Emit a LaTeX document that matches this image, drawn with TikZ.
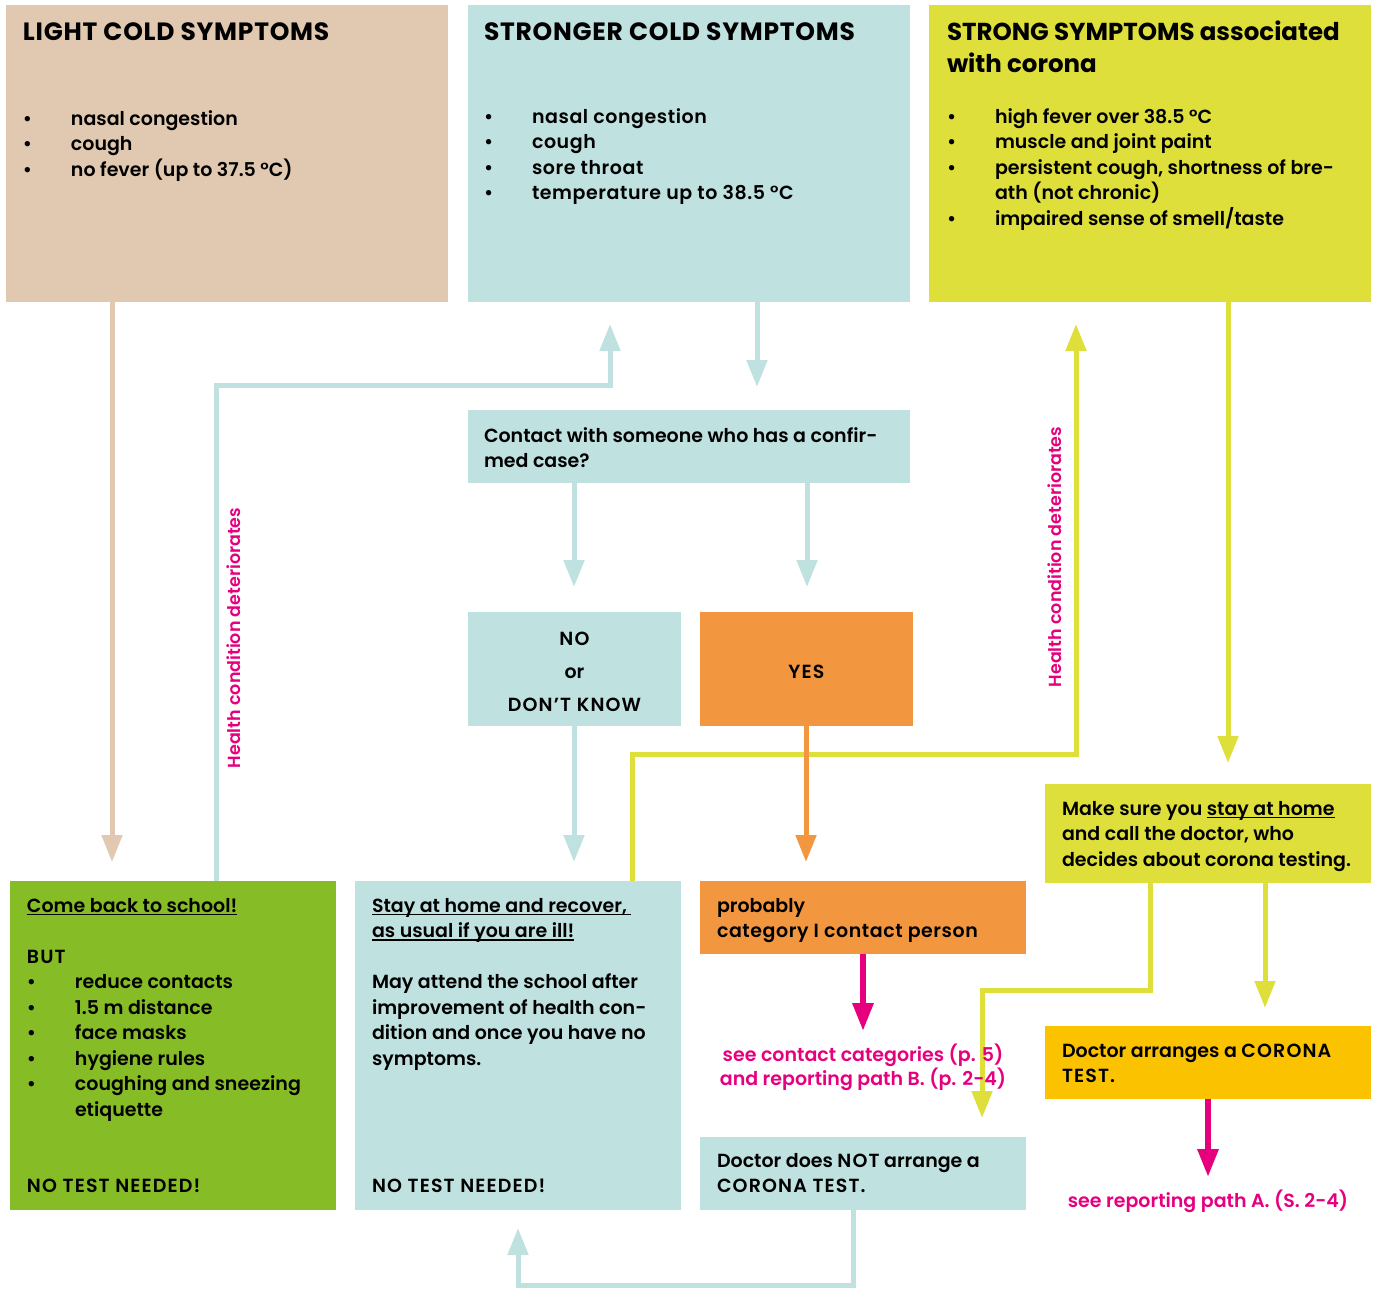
\documentclass[tikz,border=0pt]{standalone}
\usepackage{fontspec}
\setmainfont{Poppins}[UprightFont=* SemiBold, BoldFont=* Bold]
\usetikzlibrary{arrows.meta}
\definecolor{cbeige}{HTML}{E0C9B0}
\definecolor{cteal}{HTML}{BFE1E0}
\definecolor{cyell}{HTML}{DEDF3A}
\definecolor{corange}{HTML}{F39640}
\definecolor{cgreen}{HTML}{86BC25}
\definecolor{cgold}{HTML}{FBC200}
\definecolor{cpink}{HTML}{E6007E}
\newcommand\bul{\makebox[48pt][l]{•}}
\newcommand\ind{\hspace*{48pt}}
\newcommand\ulx[1]{\leavevmode\setbox0\hbox{#1}\rlap{\rule[-3pt]{\wd0}{1.2pt}}\box0}
\newcommand\cps[1]{{\addfontfeatures{LetterSpace=6}#1}}
\tikzset{
 box/.style={rectangle, inner sep=0pt, outer sep=0pt, anchor=north west, draw=none},
 body/.style={inner sep=0pt, outer sep=0pt, anchor=base west, font=\fontsize{19}{25.5}\selectfont},
 head/.style={inner sep=0pt, outer sep=0pt, anchor=base west, font=\bfseries\fontsize{25}{32}\selectfont\addfontfeatures{LetterSpace=3}},
 flow/.style={line width=5pt, -{Triangle[width=20pt,length=27pt]}},
 pinkflow/.style={line width=6pt, draw=cpink, -{Triangle[width=20pt,length=28pt]}},
 note/.style={inner sep=0pt, outer sep=0pt, anchor=base, text=cpink, font=\fontsize{19}{24}\selectfont},
 side/.style={inner sep=0pt, rotate=90, text=cpink, font=\fontsize{17.5}{17.5}\selectfont},
}
\begin{document}
\begin{tikzpicture}[x=1pt,y=-1pt]
\useasboundingbox (0,0) rectangle (1378,1288);
% boxes
\node[box, fill=cbeige, minimum width=442pt, minimum height=297pt] (light) at (6,5) {};
\node[box, fill=cteal, minimum width=442pt, minimum height=297pt] (stronger) at (468,5) {};
\node[box, fill=cyell, minimum width=442pt, minimum height=297pt] (strong) at (929,5) {};
\node[box, fill=cteal, minimum width=442pt, minimum height=73pt] (contact) at (468,410) {};
\node[box, fill=cteal, minimum width=213pt, minimum height=114pt] (no) at (468,612) {};
\node[box, fill=corange, minimum width=213pt, minimum height=114pt] (yes) at (700,612) {};
\node[box, fill=cgreen, minimum width=326pt, minimum height=329pt] (comeback) at (10,881) {};
\node[box, fill=cteal, minimum width=326pt, minimum height=329pt] (stay) at (355,881) {};
\node[box, fill=corange, minimum width=326pt, minimum height=73pt] (probably) at (700,881) {};
\node[box, fill=cteal, minimum width=326pt, minimum height=73pt] (notest) at (700,1137) {};
\node[box, fill=cyell, minimum width=326pt, minimum height=99pt] (makesure) at (1045,784) {};
\node[box, fill=cgold, minimum width=326pt, minimum height=73pt] (arranges) at (1045,1026) {};
\coordinate (tipB) at (863,1031);
\coordinate (tipA) at (1208,1177);

% connectors
\draw[flow, draw=cteal] ([xshift=289pt]stronger.south west) -- ([xshift=289pt,yshift=23pt]contact.north west);
\draw[flow, draw=cteal] ([xshift=106pt]contact.south west) -- ([xshift=106pt,yshift=25pt]no.north west);
\draw[flow, draw=cteal] ([xshift=339pt]contact.south west) -- ([xshift=107pt,yshift=25pt]yes.north west);
\draw[flow, draw=cteal] ([xshift=106pt]no.south west) -- ([xshift=219pt,yshift=19pt]stay.north west);
\draw[flow, draw=cteal] ([xshift=206pt]comeback.north west) |- ([xshift=142pt,yshift=-83pt]stronger.south west) -- ([xshift=142pt,yshift=-22pt]stronger.south west);
\draw[flow, draw=cteal] ([xshift=153pt]notest.south west) |- ([xshift=163pt,yshift=-75pt]stay.south west) -- ([xshift=163pt,yshift=-18pt]stay.south west);
\draw[flow, draw=cbeige] ([xshift=106pt]light.south west) -- ([xshift=102pt,yshift=19pt]comeback.north west);
\draw[flow, draw=cyell] ([xshift=277pt]stay.north west) |- ([xshift=147pt,yshift=-452pt]strong.south west) -- ([xshift=147pt,yshift=-22pt]strong.south west);
\draw[flow, draw=cyell] ([xshift=299pt]strong.south west) -- ([xshift=183pt,yshift=21pt]makesure.north west);
\draw[flow, draw=cyell] ([xshift=105pt]makesure.south west) |- ([xshift=282pt,yshift=147pt]notest.north west) -- ([xshift=282pt,yshift=19pt]notest.north west);
\draw[flow, draw=cyell] ([xshift=220pt]makesure.south west) -- ([xshift=220pt,yshift=18pt]arranges.north west);
\draw[flow, draw=corange] ([xshift=106pt]yes.south west) -- ([xshift=106pt,yshift=19pt]probably.north west);
\draw[pinkflow] ([xshift=163pt]probably.south west) -- (tipB);
\draw[pinkflow] ([xshift=163pt]arranges.south west) -- (tipA);

% texts
\node[head] (lightH) at (23,40) {LIGHT COLD SYMPTOMS};
\node[body] (lightB) at (23,125) {\parbox[t]{400pt}{\raggedright
 \bul nasal congestion\\ \bul cough\\ \bul no fever (up to 37.5 °C)}};
\node[head] (strongerH) at (484,40) {STRONGER COLD SYMPTOMS};
\node[body, font=\fontsize{19}{25.5}\selectfont\addfontfeatures{LetterSpace=3}] (strongerB) at (484,123) {\parbox[t]{400pt}{\raggedright
 \bul nasal congestion\\ \bul cough\\ \bul sore throat\\ \bul temperature up to 38.5 °C}};
\node[head, font=\bfseries\fontsize{24.5}{32}\selectfont] (strongH) at (947,40) {\parbox[t]{420pt}{\raggedright STRONG SYMPTOMS associated\\ with corona}};
\node[body] (strongB) at (947,123) {\parbox[t]{420pt}{\raggedright
 \bul high fever over 38.5 °C\\ \bul muscle and joint paint\\ \bul persistent cough, shortness of bre-\\ \ind ath (not chronic)\\ \bul impaired sense of smell/taste}};
\node[body, font=\fontsize{19}{25}\selectfont] (contactT) at (484,442) {\parbox[t]{420pt}{\raggedright
 Contact with someone who has a confir-\\ med case?}};
\node[body, anchor=base, font=\fontsize{19}{33}\selectfont] (noT) at (574.5,645) {\parbox[t]{200pt}{\centering \cps{NO}\\ or\\ \cps{DON’T KNOW}}};
\node[body, anchor=base] (yesT) at (806.5,678) {\cps{YES}};
\node[body] (comebackT) at (27,912) {\parbox[t]{300pt}{\raggedright
 \ulx{Come back to school!}\\ \mbox{}\\ \cps{BUT}\\ \bul reduce contacts\\ \bul 1.5 m distance\\ \bul face masks\\ \bul hygiene rules\\ \bul coughing and sneezing\\ \ind etiquette\\ \mbox{}\\ \mbox{}\\ \cps{NO TEST NEEDED!}}};
\node[body] (stayT) at (372,912) {\parbox[t]{300pt}{\raggedright
 \ulx{Stay at home and recover, }\\ \ulx{as usual if you are ill!}\\ \mbox{}\\ May attend the school after\\ improvement of health con-\\ dition and once you have no\\ symptoms.\\ \mbox{}\\ \mbox{}\\ \mbox{}\\ \mbox{}\\ \cps{NO TEST NEEDED!}}};
\node[body] (probablyT) at (717,912) {\parbox[t]{300pt}{\raggedright probably\\ {\addfontfeatures{LetterSpace=3}category I contact person}}};
\node[body] (notestT) at (717,1167) {\parbox[t]{300pt}{\raggedright Doctor does \cps{NOT} arrange a\\ \cps{CORONA TEST.}}};
\node[body] (makesureT) at (1062,815) {\parbox[t]{300pt}{\raggedright Make sure you \ulx{stay at home}\\ and call the doctor, who\\ decides about corona testing.}};
\node[body] (arrangesT) at (1062,1057) {\parbox[t]{300pt}{\raggedright Doctor arranges a \cps{CORONA}\\ \cps{TEST.}}};
\node[note] (seeB) at (863,1061) {\parbox[t]{340pt}{\centering see contact categories (p. 5)\\ and reporting path B. (p. 2-4)}};
\node[note] (seeA) at (1208,1207) {see reporting path A. (S. 2-4)};
\node[side] (lab1) at (234,638) {Health condition deteriorates};
\node[side] (lab2) at (1055,557) {Health condition deteriorates};
\end{tikzpicture}
\end{document}
